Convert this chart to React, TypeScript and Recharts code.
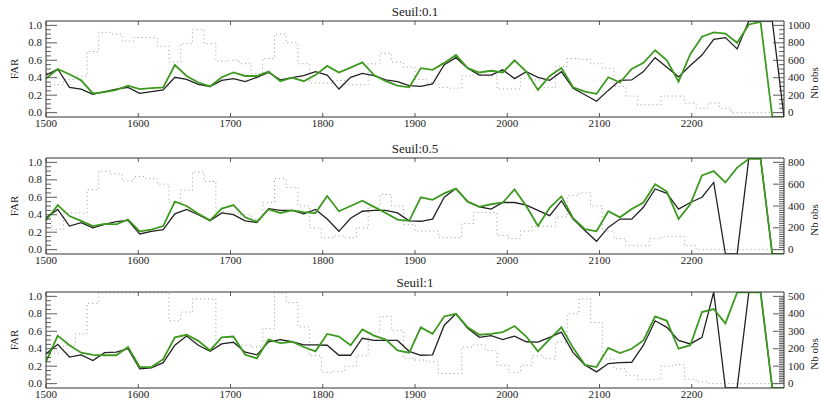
import React from "react";
import { LineChart, Line, XAxis, YAxis } from "recharts";

// x positions (64 points, 1500 -> 2300)
const years = [
  1500.0, 1512.7, 1525.4, 1538.1, 1550.8, 1563.5, 1576.2, 1588.9, 1601.6, 1614.3,
  1627.0, 1639.7, 1652.4, 1665.1, 1677.8, 1690.5, 1703.2, 1715.9, 1728.6, 1741.3,
  1754.0, 1766.7, 1779.4, 1792.1, 1804.8, 1817.5, 1830.2, 1842.9, 1855.6, 1868.3,
  1881.0, 1893.7, 1906.3, 1919.0, 1931.7, 1944.4, 1957.1, 1969.8, 1982.5, 1995.2,
  2007.9, 2020.6, 2033.3, 2046.0, 2058.7, 2071.4, 2084.1, 2096.8, 2109.5, 2122.2,
  2134.9, 2147.6, 2160.3, 2173.0, 2185.7, 2198.4, 2211.1, 2223.8, 2236.5, 2249.2,
  2261.9, 2274.6, 2287.3, 2300.0,
];
const yearTicks = [1500, 1600, 1700, 1800, 1900, 2000, 2100, 2200];

// Seuil:0.1
const farBlack1 = [
  0.43, 0.5, 0.29, 0.27, 0.21, 0.24, 0.27, 0.29, 0.22, 0.24,
  0.26, 0.405, 0.38, 0.325, 0.3, 0.37, 0.39, 0.355, 0.405, 0.46,
  0.375, 0.4, 0.425, 0.47, 0.43, 0.27, 0.405, 0.45, 0.425, 0.375,
  0.355, 0.31, 0.3, 0.33, 0.55, 0.63, 0.51, 0.43, 0.43, 0.49,
  0.39, 0.47, 0.405, 0.37, 0.47, 0.28, 0.205, 0.13, 0.255, 0.37,
  0.375, 0.47, 0.63, 0.52, 0.41, 0.54, 0.66, 0.84, 0.86, 0.73,
  1.05, 1.05, 1.05, -0.05,
];
const farGreen1 = [
  0.39, 0.5, 0.44, 0.37, 0.22, 0.235, 0.26, 0.31, 0.27, 0.28,
  0.29, 0.545, 0.42, 0.345, 0.3, 0.405, 0.46, 0.42, 0.42, 0.47,
  0.36, 0.4, 0.36, 0.43, 0.535, 0.46, 0.515, 0.575, 0.43, 0.36,
  0.31, 0.29, 0.51, 0.49, 0.57, 0.66, 0.51, 0.46, 0.48, 0.46,
  0.6, 0.47, 0.26, 0.42, 0.51, 0.29, 0.24, 0.215, 0.405, 0.345,
  0.5, 0.57, 0.715, 0.6, 0.355, 0.67, 0.87, 0.92, 0.905, 0.8,
  1.01, 1.04, -0.05, -0.05,
];
const nbObs1 = [
  320, 320, 380, 420, 700, 920, 900, 820, 860, 860,
  760, 580, 790, 950, 790, 590, 600, 560, 450, 620,
  900, 800, 560, 340, 340, 370, 320, 320, 560, 680,
  580, 520, 380, 340, 290, 280, 420, 430, 420, 270,
  270, 390, 375, 290, 530, 620, 610, 560, 510, 300,
  190, 90, 90, 190, 190, 110, 50, 110, 50, 0,
  0, 0, 0, 0,
];

// Seuil:0.5
const farBlack2 = [
  0.365, 0.46, 0.27, 0.31, 0.25, 0.29, 0.32, 0.335, 0.18, 0.21,
  0.23, 0.41, 0.46, 0.4, 0.33, 0.42, 0.4, 0.33, 0.31, 0.47,
  0.45, 0.45, 0.41, 0.46, 0.35, 0.21, 0.36, 0.44, 0.45, 0.45,
  0.42, 0.33, 0.325, 0.35, 0.6, 0.7, 0.55, 0.49, 0.465, 0.54,
  0.54, 0.51, 0.45, 0.39, 0.56, 0.35, 0.22, 0.095, 0.255, 0.35,
  0.35, 0.485, 0.695, 0.645, 0.465, 0.54, 0.6, 0.77, -0.05, -0.05,
  1.05, 1.05, -0.05, -0.05,
];
const farGreen2 = [
  0.335, 0.51, 0.385, 0.33, 0.27, 0.295, 0.29, 0.345, 0.21, 0.23,
  0.27, 0.55, 0.5, 0.41, 0.335, 0.47, 0.51, 0.37, 0.32, 0.46,
  0.42, 0.45, 0.43, 0.42, 0.615, 0.44, 0.5, 0.56, 0.49, 0.42,
  0.345, 0.33, 0.6, 0.57, 0.645, 0.7, 0.55, 0.49, 0.52, 0.54,
  0.69, 0.5, 0.27, 0.48, 0.61, 0.36, 0.235, 0.21, 0.44, 0.37,
  0.465, 0.54, 0.75, 0.665, 0.35, 0.52, 0.85, 0.9, 0.77, 0.94,
  1.04, 1.04, -0.05, -0.05,
];
const nbObs2 = [
  280, 185, 335, 335, 550, 720, 695, 630, 670, 650,
  600, 430, 545, 710, 625, 350, 335, 320, 280, 430,
  650, 570, 400, 200, 110, 125, 110, 200, 390, 505,
  400, 230, 170, 170, 110, 110, 240, 340, 340, 130,
  100, 170, 215, 215, 300, 495, 520, 400, 170, 100,
  36, 36, 100, 120, 120, 36, 0, 0, 0, 0,
  0, 0, 0, 0,
];

// Seuil:1
const farBlack3 = [
  0.34, 0.45, 0.305, 0.33, 0.265, 0.355, 0.36, 0.4, 0.17, 0.18,
  0.24, 0.44, 0.545, 0.44, 0.37, 0.455, 0.475, 0.36, 0.33, 0.48,
  0.505, 0.48, 0.445, 0.445, 0.44, 0.325, 0.325, 0.52, 0.495, 0.495,
  0.495, 0.37, 0.325, 0.33, 0.67, 0.8, 0.635, 0.53, 0.55, 0.505,
  0.545, 0.48, 0.475, 0.53, 0.59, 0.355, 0.215, 0.135, 0.23, 0.24,
  0.245, 0.44, 0.72, 0.645, 0.495, 0.455, 0.53, 1.05, -0.05, -0.05,
  1.05, 1.05, -0.05, -0.05,
];
const farGreen3 = [
  0.25, 0.55, 0.44, 0.355, 0.33, 0.325, 0.325, 0.42, 0.19, 0.19,
  0.28, 0.53, 0.56, 0.49, 0.38, 0.53, 0.54, 0.33, 0.29, 0.505,
  0.465, 0.48, 0.42, 0.37, 0.57, 0.54, 0.44, 0.62, 0.55, 0.505,
  0.38, 0.355, 0.645, 0.57, 0.77, 0.8, 0.645, 0.56, 0.57, 0.59,
  0.66, 0.54, 0.37, 0.51, 0.645, 0.41, 0.215, 0.19, 0.41, 0.35,
  0.4, 0.495, 0.77, 0.72, 0.4, 0.44, 0.82, 0.855, 0.69, 1.045,
  1.045, 1.045, -0.05, -0.05,
];
const nbObs3 = [
  175, 175, 220, 285, 460, 520, 520, 520, 520, 520,
  520, 360, 410, 485, 485, 230, 230, 220, 210, 315,
  520, 465, 325, 160, 65, 70, 100, 160, 295, 385,
  305, 145, 135, 125, 58, 58, 210, 222, 190, 105,
  65, 105, 160, 142, 238, 400, 485, 350, 142, 85,
  48, 25, 25, 100, 108, 25, 10, 0, 0, 0,
  0, 0, 0, 0,
];

const W = 821;
const CH_H = 130;
const PLOT_LEFT = 46;
const PLOT_RIGHT = 784;
const PLOT_TOP = 21;
const PLOT_H = 96;
const PLOT_BOTTOM = PLOT_TOP + PLOT_H;
const AXIS = "#333";
const FONT = "'Liberation Serif', 'DejaVu Serif', serif";

const steps = (max: number, step: number) => {
  const out: number[] = [];
  for (let v = 0; v <= max + 1e-9; v += step) out.push(+v.toFixed(4));
  return out;
};

const FarTick = (props: any) => {
  const { y, payload } = props;
  const v = payload.value;
  const major = Math.abs(v * 5 - Math.round(v * 5)) < 1e-6;
  return (
    <g>
      <line x1={PLOT_LEFT} x2={PLOT_LEFT + (major ? 11 : 5)} y1={y} y2={y} stroke={AXIS} strokeWidth={0.8} />
      {major && (
        <text x={PLOT_LEFT - 4} y={y + 3.5} textAnchor="end" fontSize={11} fontFamily={FONT} fill="#222">
          {v.toFixed(1)}
        </text>
      )}
    </g>
  );
};

const makeObsTick = (major: number) => (props: any) => {
  const { y, payload } = props;
  const v = payload.value;
  const isMajor = v % major === 0;
  return (
    <g>
      <line x1={PLOT_RIGHT} x2={PLOT_RIGHT - (isMajor ? 11 : 5)} y1={y} y2={y} stroke={AXIS} strokeWidth={0.8} />
      {isMajor && (
        <text x={PLOT_RIGHT + 4} y={y + 3.5} textAnchor="start" fontSize={11} fontFamily={FONT} fill="#222">
          {v}
        </text>
      )}
    </g>
  );
};

const YearTick = (props: any) => {
  const { x, payload } = props;
  return (
    <g>
      <line x1={x} x2={x} y1={PLOT_BOTTOM} y2={PLOT_BOTTOM - 4} stroke={AXIS} strokeWidth={0.8} />
      <line x1={x} x2={x} y1={PLOT_TOP} y2={PLOT_TOP + 4} stroke={AXIS} strokeWidth={0.8} />
      <text x={x} y={PLOT_BOTTOM + 10} textAnchor="middle" fontSize={11} fontFamily={FONT} fill="#222">
        {payload.value}
      </text>
    </g>
  );
};

const farTicks = steps(1, 0.05);

const panels = [
  { title: "Seuil:0.1", top: 0, black: farBlack1, green: farGreen1, obs: nbObs1, max: 1000, major: 200, minor: 50 },
  { title: "Seuil:0.5", top: 137, black: farBlack2, green: farGreen2, obs: nbObs2, max: 800, major: 200, minor: 20 },
  { title: "Seuil:1", top: 271, black: farBlack3, green: farGreen3, obs: nbObs3, max: 500, major: 100, minor: 10 },
];

const Panel = ({ p }: { p: (typeof panels)[number] }) => {
  const data = years.map((x, i) => ({ x, black: p.black[i], green: p.green[i], obs: p.obs[i] }));
  const ObsTick = makeObsTick(p.major);
  return (
    <div style={{ position: "absolute", left: 0, top: p.top, width: W, height: CH_H }}>
      <LineChart
        width={W}
        height={CH_H}
        data={data}
        margin={{ top: PLOT_TOP - 1, right: W - PLOT_RIGHT - 1, bottom: CH_H - PLOT_BOTTOM - 1, left: PLOT_LEFT - 1 }}
      >
        <XAxis
          dataKey="x"
          type="number"
          domain={[1500, 2300]}
          ticks={yearTicks}
          interval={0}
          height={1}
          tickLine={false}
          tick={<YearTick />}
          axisLine={{ stroke: AXIS }}
          allowDataOverflow
        />
        <XAxis
          xAxisId="top"
          dataKey="x"
          orientation="top"
          type="number"
          domain={[1500, 2300]}
          height={1}
          tick={false}
          tickLine={false}
          axisLine={{ stroke: AXIS }}
        />
        <YAxis
          yAxisId="far"
          type="number"
          domain={[-0.05, 1.05]}
          ticks={farTicks}
          interval={0}
          width={1}
          tickLine={false}
          tick={<FarTick />}
          axisLine={{ stroke: AXIS }}
          allowDataOverflow
        />
        <YAxis
          yAxisId="obs"
          orientation="right"
          type="number"
          domain={[-0.05 * p.max, 1.05 * p.max]}
          ticks={steps(p.max, p.minor)}
          interval={0}
          width={1}
          tickLine={false}
          tick={<ObsTick />}
          axisLine={{ stroke: AXIS }}
          allowDataOverflow
        />
        <Line yAxisId="obs" dataKey="obs" type="step" stroke="#9a9a9a" strokeWidth={1} strokeDasharray="1 3" dot={false} isAnimationActive={false} />
        <Line yAxisId="far" dataKey="black" type="linear" stroke="#222" strokeWidth={1.3} dot={false} isAnimationActive={false} />
        <Line yAxisId="far" dataKey="green" type="linear" stroke="#3d9a1f" strokeWidth={1.8} dot={false} isAnimationActive={false} />
      </LineChart>
    </div>
  );
};

export default function App() {
  const mid = (PLOT_LEFT + PLOT_RIGHT) / 2;
  return (
    <div style={{ position: "absolute", left: 0, top: 0, width: W, height: 401, overflow: "hidden", background: "#fff" }}>
      {panels.map((p) => (
        <Panel key={p.title} p={p} />
      ))}
      <svg width={W} height={401} style={{ position: "absolute", left: 0, top: 0, pointerEvents: "none" }}>
        {panels.map((p) => {
          const cy = p.top + PLOT_TOP + PLOT_H / 2;
          return (
            <g key={p.title} fontFamily={FONT} fill="#222">
              <text x={mid} y={p.top + PLOT_TOP - 5} textAnchor="middle" fontSize={13}>
                {p.title}
              </text>
              <text transform={`translate(18, ${cy}) rotate(-90)`} textAnchor="middle" fontSize={11}>
                FAR
              </text>
              <text transform={`translate(818, ${cy + 14}) rotate(-90)`} textAnchor="middle" fontSize={11}>
                Nb obs
              </text>
            </g>
          );
        })}
      </svg>
    </div>
  );
}
